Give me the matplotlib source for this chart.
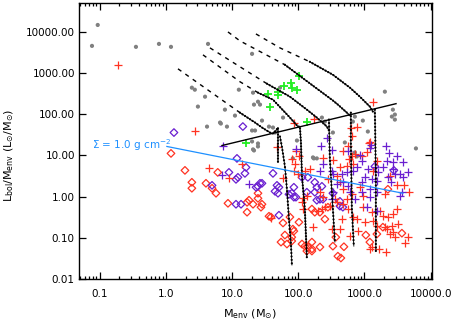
import numpy as np
import matplotlib
matplotlib.use('Agg')
import matplotlib.pyplot as plt
from matplotlib.ticker import FixedLocator, FixedFormatter, LogLocator, NullLocator

# ---- data (M_env in Msun, L_bol/M_env in Lsun/Msun) ----
gray_m = [0.077, 0.094, 0.355, 0.79, 1.2, 4.35, 2.48, 2.75, 3.92, 3.06, 7.83, 11.1,
          4.2, 6.6, 6.8, 8.4, 12.7, 20.1, 20.8, 24.7, 26.5, 21.5, 59, 36.2,
          41.6, 20.1, 22.3, 20.8, 24.7, 20.1, 24.7, 21.5, 28.4, 53, 44.6, 669,
          946, 717, 2035, 2688, 2882, 2882, 2597, 5990, 172, 191, 506, 717,
          768, 334, 95.7, 228, 253, 1126, 167, 83]
gray_lm = [4540, 14600, 4300, 5070, 4300, 5070, 440, 393, 266, 153, 129, 92.5,
           50, 62.7, 59.3, 50, 393, 2910, 333, 201, 171, 171, 82.8, 50,
           47.5, 40.2, 40.2, 14, 16.5, 21.8, 19.5, 13.2, 70, 440, 35.9, 66.2,
           70, 87.5, 352, 129, 98, 74, 87.5, 14.8, 8.47, 8.47, 20.6, 11.8,
           9.46, 35.9, 23, 82.8, 66.2, 38, 8.95, 8.47]

red_plus_m = [0.19, 2.75, 4.5, 9.0, 14.2, 47.8, 59, 89, 86, 118, 38.8,
              1340, 86, 172, 624, 768, 646, 1166, 562, 92.5, 102.6, 236, 472,
              126, 150, 334, 426, 543, 582, 646, 669, 717,
              1207, 1088, 914, 1541, 1340, 384, 426, 281, 472, 646, 853, 543, 946,
              2422, 4700, 2035, 213, 236, 358,
              135, 167, 198, 228, 253, 301, 384, 472, 456, 323, 426, 562, 669, 768,
              602, 795, 1015, 946, 1295, 1340, 1541, 1710, 1898, 2035, 2259, 2597,
              2688, 3090, 3200, 2422, 2882, 4532, 4082, 1207, 2107, 118, 114,
              3090, 3943, 2688, 2182, 1295, 1652, 80.4, 99]
red_plus_lm = [1580, 40.2, 4.85, 2.78, 6.06, 15.6, 2.78, 6.06, 4.11, 0.91, 0.30,
               201, 62.7, 78.3, 47.5, 50.2, 28.8, 19.5, 16.5, 12.5, 9.46, 8.47, 12.5,
               4.11, 4.59, 7.57, 5.13, 5.42, 8.0, 9.46, 6.06, 10.6,
               20.6, 11.8, 9.46, 7.16, 4.11, 3.11, 2.23, 2.63, 1.51, 1.14, 1.69, 0.865, 1.02,
               3.11, 1.28, 1.14, 1.28, 0.97, 0.865,
               1.02, 0.182, 0.445, 0.50, 0.555, 0.59, 0.73, 0.655, 0.285, 0.163, 0.163, 0.50, 0.32, 0.285,
               0.11, 0.146, 0.24, 0.555, 0.42, 0.255, 0.193, 0.445, 0.335, 0.182, 0.32, 0.193,
               0.375, 0.50, 0.215, 0.124, 0.104, 0.104, 0.075, 0.054, 0.045, 0.50, 0.73,
               1.88, 1.88, 0.138, 0.163, 0.06, 0.054, 8.0, 3.48]

red_dia_m = [1.2, 1.95, 2.48, 2.48, 4.05, 5.0, 5.74, 6.1, 8.7,
             16.9, 18.1, 16.9, 20.8, 24.7, 24.7, 28.4, 27.4, 36.2, 38.8, 59, 63, 55, 80, 86,
             102.6, 114, 126, 75, 83, 67.6, 80, 161, 213, 397, 441, 1050, 1898, 2259, 3678,
             161, 178, 213, 253, 161, 140, 135, 161, 334, 490, 370, 1207, 1541, 281]
red_dia_lm = [11.2, 4.34, 2.23, 1.60, 2.11, 1.60, 1.21, 3.88, 0.69,
              0.73, 0.82, 0.42, 0.655, 0.91, 1.21, 0.655, 0.555, 0.335, 0.32, 0.23, 0.117, 0.079, 0.084, 0.146,
              0.24, 0.071, 0.063, 0.32, 0.163, 0.071, 0.104, 0.054, 0.06, 0.036, 0.0325, 0.117, 0.182, 1.51, 0.13,
              0.50, 0.42, 0.42, 0.285, 0.079, 0.06, 0.048, 0.048, 0.063, 0.061, 0.104, 0.079, 0.124, 0.555]

pur_dia_m = [1.33, 11.9, 5.0, 9.0, 11.5, 11.5, 13.7, 16.3, 15.7, 12.3, 26.5, 28.4, 24.7, 23.1,
             41.6, 47.8, 51.2, 44.6, 49.5, 72.5, 86, 86, 92.5, 51.2, 14.6,
             114, 140, 178, 191, 228, 178, 213, 236, 334, 426, 2784, 191, 426, 472, 135, 80, 1437]
pur_dia_lm = [35.9, 8.47, 1.88, 3.88, 2.63, 0.655, 0.655, 5.13, 3.67, 2.94, 2.11, 2.11, 1.78, 1.69,
              3.67, 1.88, 1.69, 1.35, 1.21, 1.14, 1.69, 0.97, 0.97, 0.355, 50.2,
              2.94, 2.94, 2.23, 1.69, 1.78, 1.28, 0.865, 0.865, 1.21, 0.77, 4.34, 0.82, 0.59, 0.555, 1.28, 1.21, 5.42]

pur_plus_m = [7.3, 7.06, 18.1, 92.5, 220, 271, 323, 236, 562, 853, 2107, 2339, 2688, 3090,
              914, 1207, 1250, 2182, 213, 323, 334, 456, 543, 669, 768, 1126, 1437, 1595,
              1015, 914, 1295, 1541, 2688, 3430, 2882, 4532, 3808, 2259, 384, 472, 562,
              334, 602, 914, 1207, 1541, 1207, 717, 323, 1088, 1541, 3430, 1898, 2508, 3678, 3808]
pur_plus_lm = [17.4, 3.29, 1.99, 14.0, 16.5, 27.2, 13.2, 6.06, 12.5, 10, 16.5, 11.2, 6.77, 9.46,
               7.16, 14.8, 18.4, 7.16, 4.11, 4.11, 3.48, 3.48, 3.88, 4.11, 5.13, 4.59, 5.13, 3.88,
               2.94, 2.23, 2.63, 2.36, 4.59, 3.48, 3.48, 3.88, 2.94, 2.94, 1.99, 2.23, 1.78,
               1.28, 1.28, 1.28, 1.51, 1.28, 0.97, 0.865, 0.865, 0.555, 0.445, 1.02, 5.13, 2.23, 1.28, 6.77]

green_m = [102.6, 77.7, 61, 80.4, 95.7, 49.5, 49.5, 35, 37.5, 135, 16.3]
green_lm = [855, 580, 491, 440, 393, 352, 297, 315, 153, 66.2, 19.5]

# evolutionary tracks: early (dashed) part, later part, and vertical drop
track_dash_m = [[1.53, 13.2], [3.65, 13.2, 24.7], [4.65, 13.2, 33.8],
                [8.7, 13.2, 63], [23.0, 53, 150]]
track_dash_lm = [[1260, 109], [2750, 613, 333], [4060, 1413, 548],
                 [9890, 6000, 1580], [8850, 4060, 1866]]
track_m = [[13.2, 22.3, 28.4, 37.5, 41.6, 46.2, 49.5, 49.5],
           [24.7, 41.6, 75, 99, 106, 110, 114, 126, 135],
           [33.8, 75, 135, 191, 271, 291],
           [63, 167, 334, 397, 543, 602],
           [150, 334, 604, 853, 1207, 1340]]
track_lm = [[109, 62.7, 47.5, 35.9, 34, 40.2, 47.5, 6.77],
            [333, 225, 82.8, 50.2, 50.2, 20.6, 3.11, 0.50, 0.034],
            [548, 266, 129, 82.8, 50.2, 40.2],
            [1580, 491, 215, 171, 109, 92.5],
            [1866, 905, 440, 266, 153, 116]]
drop_m = [[53, 57, 63, 67.6, 72.5, 77.7, 80.4], [], [291, 301, 334, 358],
          [624, 624, 646, 692], [1437, 1488, 1488]]
drop_lm = [[28.8, 15.6, 5.42, 1.51, 0.285, 0.071, 0.022], [], [74.1, 8.0, 0.50, 0.079],
           [109, 20.6, 0.50, 0.063], [129, 3.11, 0.048]]

line_m = [7.06, 3000]
line_lm = [17.4, 180]
sigma_m = [1.04, 3808]
sigma_lm = [16.5, 1.21]

plt.rcParams['font.family'] = 'DejaVu Sans'
fig = plt.figure(figsize=(4.63, 3.22), dpi=100)
ax = fig.add_axes([0.1706, 0.1326, 0.7614, 0.8572])
ax.set_xscale('log')
ax.set_yscale('log')

red = '#ff3322'
purple = '#6a1fd0'

ax.scatter(gray_m, gray_lm, s=9, color='#808080', edgecolors='none', zorder=2)
ax.scatter(red_dia_m, red_dia_lm, marker='D', s=15, facecolors='none', edgecolors=red, linewidths=0.9, zorder=3)
ax.scatter(pur_dia_m, pur_dia_lm, marker='D', s=15, facecolors='none', edgecolors=purple, linewidths=0.9, zorder=3)
ax.scatter(red_plus_m, red_plus_lm, marker='+', s=26, color=red, linewidths=0.9, zorder=3)
ax.scatter(pur_plus_m, pur_plus_lm, marker='+', s=26, color=purple, linewidths=0.9, zorder=3)
ax.scatter(green_m, green_lm, marker='+', s=40, color='#22ee22', linewidths=1.3, zorder=4)

for i in range(len(track_m)):
    ax.plot(track_dash_m[i], track_dash_lm[i], color='k', lw=1.0, ls=(0, (3, 3.5)), zorder=5)
    ax.plot(track_m[i], track_lm[i], color='k', lw=0.7, zorder=5)
    ax.plot(track_m[i], track_lm[i], color='k', lw=1.6, ls=(0, (0.05, 1.3)),
            dash_capstyle='round', zorder=5)
    if drop_m[i]:
        ax.plot(drop_m[i], drop_lm[i], color='k', lw=0.6, zorder=5)
        ax.plot(drop_m[i], drop_lm[i], color='k', lw=1.6, ls=(0, (0.05, 1.5)),
                dash_capstyle='round', zorder=5)

ax.plot(line_m, line_lm, color='k', lw=1.0, zorder=5)
ax.plot(sigma_m, sigma_lm, color='#1e90ff', lw=0.9, zorder=5)
ax.text(0.077, 17.4, r'$\Sigma$ = 1.0 g cm$^{-2}$', color='#1e90ff', fontsize=7.5,
        ha='left', va='center')

ax.set_xlim(0.049, 10300)
ax.set_ylim(0.0099, 49000)

xt = [0.1, 1, 10, 100, 1000, 10000]
ax.xaxis.set_major_locator(FixedLocator(xt))
ax.xaxis.set_major_formatter(FixedFormatter(['0.1', '1.0', '10.0', '100.0', '1000.0', '10000.0']))
ax.xaxis.set_minor_locator(LogLocator(base=10, subs=np.arange(2, 10), numticks=20))
yt = [0.01, 0.1, 1, 10, 100, 1000, 10000]
ax.yaxis.set_major_locator(FixedLocator(yt))
ax.yaxis.set_major_formatter(FixedFormatter(['0.01', '0.10', '1.00', '10.00', '100.00', '1000.00', '10000.00']))
ax.yaxis.set_minor_locator(NullLocator())

ax.tick_params(which='both', direction='in', top=True, right=True, labelsize=7.5, width=0.9)
ax.tick_params(axis='x', which='major', length=5, pad=7)
ax.tick_params(axis='x', which='minor', length=2.5)
ax.tick_params(axis='y', which='major', length=5, pad=3)
for s in ax.spines.values():
    s.set_linewidth(1.0)

ax.set_xlabel(r'M$_{\rm env}$ (M$_{\odot}$)', fontsize=8)
ax.set_ylabel(r'L$_{\rm bol}$/M$_{\rm env}$ (L$_{\odot}$/M$_{\odot}$)', fontsize=8)
ax.xaxis.set_label_coords(0.485, -0.10)
ax.yaxis.set_label_coords(-0.178, 0.45)

fig.savefig('out.png', dpi=100)
